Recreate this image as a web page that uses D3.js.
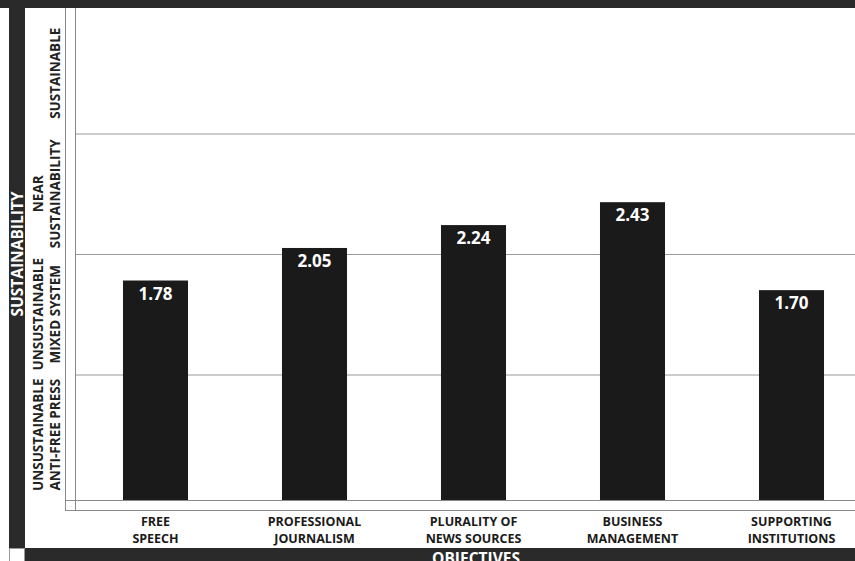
<!DOCTYPE html>
<html>
<head>
<meta charset="utf-8">
<script src="https://cdn.jsdelivr.net/npm/d3@7/dist/d3.min.js"></script>
<style>
  html, body { margin: 0; padding: 0; background: #fff; }
  svg { display: block; font-family: "Open Sans", "DejaVu Sans", sans-serif; }
</style>
</head>
<body>
<svg id="chart" width="855" height="561"></svg>
<script>
// ---- data ----
const categories = ["FREE SPEECH", "PROFESSIONAL JOURNALISM", "PLURALITY OF NEWS SOURCES", "BUSINESS MANAGEMENT", "SUPPORTING INSTITUTIONS"];
const categoryLines = [["FREE", "SPEECH"], ["PROFESSIONAL", "JOURNALISM"], ["PLURALITY OF", "NEWS SOURCES"], ["BUSINESS", "MANAGEMENT"], ["SUPPORTING", "INSTITUTIONS"]];
const scores = [1.78, 2.05, 2.24, 2.43, 1.70];
const gridValues = [1, 2, 3];
const levelMids = [0.5, 1.5, 2.5, 3.5];
const levelLines = [["UNSUSTAINABLE", "ANTI-FREE PRESS"], ["UNSUSTAINABLE", "MIXED SYSTEM"], ["NEAR", "SUSTAINABILITY"], ["SUSTAINABLE"]];
const yTitle = "SUSTAINABILITY";
const xTitle = "OBJECTIVES";

// ---- layout ----
const W = 855, H = 561;
const svg = d3.select("#chart");
const dark = "#2a2a2a";
const barColor = "#1a1a1a";

const x = d3.scaleBand().domain(categories).range([76, 871]).paddingInner(0.591).paddingOuter(0.2955);
const y = d3.scaleLinear().domain([0, 4]).range([495, 13]);
const baseY = 500;

// frame bands
svg.append("rect").attr("x", 0).attr("y", 0).attr("width", W).attr("height", 8).attr("fill", dark);
svg.append("rect").attr("x", 9).attr("y", 0).attr("width", 16).attr("height", 548).attr("fill", dark);
svg.append("rect").attr("x", 25).attr("y", 548).attr("width", W - 25).attr("height", H - 548).attr("fill", dark);
svg.append("rect").attr("x", 9.5).attr("y", 548.5).attr("width", 15).attr("height", 14).attr("fill", "#fff").attr("stroke", "#999").attr("stroke-width", 1);

// grid lines (axis)
const grid = svg.append("g").attr("transform", "translate(75,0)")
  .call(d3.axisLeft(y).tickValues(gridValues).tickSize(-(W - 75)).tickFormat(""));
grid.select(".domain").remove();
grid.selectAll(".tick line").attr("stroke", "#9a9a9a").attr("stroke-width", 1.2);

// frame lines
const lineColor = "#8a8a8a";
[65, 75].forEach(px => {
  svg.append("line").attr("x1", px + 0.5).attr("x2", px + 0.5).attr("y1", 8).attr("y2", 510.5)
    .attr("stroke", lineColor).attr("stroke-width", 1);
});
[baseY, 510].forEach(py => {
  svg.append("line").attr("x1", 65).attr("x2", W).attr("y1", py + 0.5).attr("y2", py + 0.5)
    .attr("stroke", lineColor).attr("stroke-width", 1.2);
});

// bars
svg.append("g").selectAll("rect").data(scores).join("rect")
  .attr("x", (d, i) => x(categories[i]))
  .attr("y", d => y(d))
  .attr("width", x.bandwidth())
  .attr("height", d => baseY - y(d))
  .attr("fill", barColor);

// value labels
svg.append("g").selectAll("text").data(scores).join("text")
  .attr("x", (d, i) => x(categories[i]) + x.bandwidth() / 2)
  .attr("y", d => y(d) + 19)
  .attr("text-anchor", "middle")
  .attr("fill", "#fff")
  .attr("font-weight", 700)
  .attr("font-size", 17)
  .text(d => d.toFixed(2));

// category labels (bottom axis)
const xAxis = svg.append("g").attr("transform", `translate(0,${baseY + 15})`)
  .call(d3.axisBottom(x).tickSize(0).tickPadding(0));
xAxis.select(".domain").remove();
xAxis.selectAll(".tick text").each(function(d) {
  const t = d3.select(this);
  const lines = categoryLines[categories.indexOf(d)];
  t.text(null).attr("y", 0).attr("dy", null)
    .attr("fill", "#1a1a1a").attr("font-size", 12.5).attr("font-weight", 700)
    .attr("font-family", "'Open Sans', sans-serif");
  lines.forEach((l, k) => {
    t.append("tspan").attr("x", 0).attr("y", 10.5 + k * 17).text(l);
  });
});

// level labels (left, rotated)
const lev = svg.append("g");
levelMids.forEach((m, i) => {
  const lines = levelLines[i];
  const xs = lines.length === 2 ? [43, 60] : [60];
  lines.forEach((l, k) => {
    lev.append("text")
      .attr("transform", `translate(${xs[k]},${y(m)}) rotate(-90)`)
      .attr("text-anchor", "middle")
      .attr("fill", "#222")
      .attr("font-weight", 700)
      .attr("font-size", 13.5)
      .text(l);
  });
});

// axis titles
svg.append("text")
  .attr("transform", `translate(23,${y(2)}) rotate(-90)`)
  .attr("text-anchor", "middle")
  .attr("fill", "#fff")
  .attr("font-weight", 700)
  .attr("font-size", 15.5)
  .text(yTitle);

svg.append("text")
  .attr("x", 476)
  .attr("y", 564)
  .attr("text-anchor", "middle")
  .attr("fill", "#fff")
  .attr("font-weight", 700)
  .attr("font-size", 15.5)
  .text(xTitle);
</script>
</body>
</html>
